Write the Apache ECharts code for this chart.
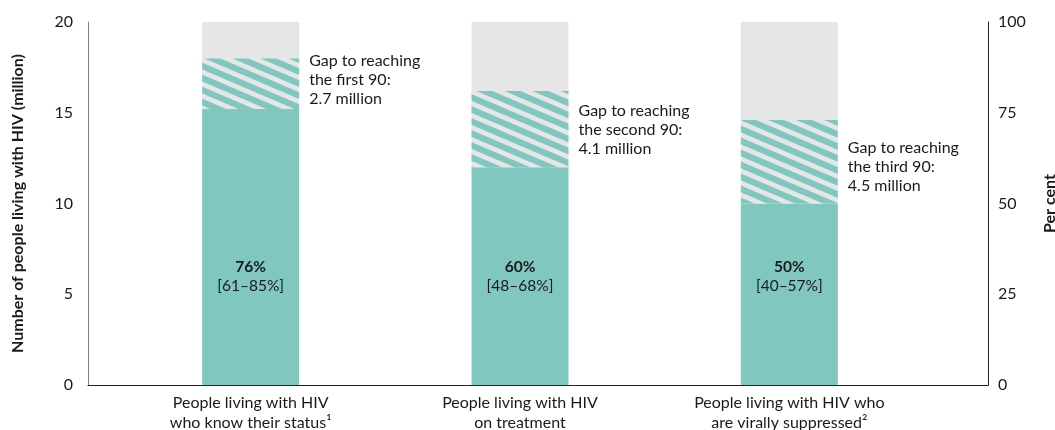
<!DOCTYPE html>
<html>
<head>
<meta charset="utf-8">
<script src="https://cdn.jsdelivr.net/npm/echarts@6/dist/echarts.min.js"></script>
<style>
html,body{margin:0;padding:0;background:#fff;}
#chart{width:1055px;height:430px;}
</style>
</head>
<body>
<div id="chart"></div>
<script>
// ---- Data ----
const categories = [
  "People living with HIV\nwho know their status\u00B9",
  "People living with HIV\non treatment",
  "People living with HIV who\nare virally suppressed\u00B2"
];
const reached = [15.2, 12.0, 10.0];      // millions (solid teal)
const gap = [2.8, 4.2, 4.6];             // millions (hatched)
const remainder = [2.0, 3.8, 5.4];       // up to 20 million (grey)
const pctValues = [76, 60, 50];
const pctRanges = ["61\u201385%", "48\u201368%", "40\u201357%"];
const gapLabels = [
  "Gap to reaching\nthe first 90:\n2.7 million",
  "Gap to reaching\nthe second 90:\n4.1 million",
  "Gap to reaching\nthe third 90:\n4.5 million"
];
const leftTicks = [0, 5, 10, 15, 20];
const rightTicks = [0, 25, 50, 75, 100];

// ---- Styles ----
const TEAL = '#80c7bf';
const GREY = '#e6e6e6';
const TEXT = '#1a1a1a';
const FONT = 'Lato';
const gapLabelOffsets = [-4, 1, 5];
const pctLabelAnchor = 6;

function makeHatch() {
  const W = 28, H = 12;
  const c = document.createElement('canvas');
  c.width = W; c.height = H;
  const ctx = c.getContext('2d');
  ctx.fillStyle = GREY;
  ctx.fillRect(0, 0, W, H);
  ctx.fillStyle = TEAL;
  const t = 6.8;
  for (let k = -3; k <= 3; k++) {
    const y0 = k * H;
    ctx.beginPath();
    ctx.moveTo(0, y0);
    ctx.lineTo(W, y0 + H);
    ctx.lineTo(W, y0 + H + t);
    ctx.lineTo(0, y0 + t);
    ctx.closePath();
    ctx.fill();
  }
  return c;
}

const chart = echarts.init(document.getElementById('chart'), null, {renderer: 'canvas'});

const option = {
  animation: false,
  backgroundColor: '#fff',
  textStyle: {fontFamily: FONT, color: TEXT},
  grid: [
    {left: 88, right: 67, top: 22, bottom: 45, containLabel: false, outerBoundsMode: 'none'},
    {left: 116, right: 131, top: 22, bottom: 45, containLabel: false, outerBoundsMode: 'none'}
  ],
  xAxis: [
    {
      gridIndex: 0, type: 'category', data: [''],
      axisLine: {show: true, lineStyle: {color: '#222', width: 1}},
      axisTick: {show: false}, axisLabel: {show: false}, splitLine: {show: false}
    },
    {
      gridIndex: 1, type: 'category', data: categories,
      axisLine: {show: false}, axisTick: {show: false},
      axisLabel: {
        interval: 0, margin: 8, fontSize: 16, lineHeight: 20,
        color: TEXT, fontFamily: FONT, align: 'center'
      }
    }
  ],
  yAxis: [
    {
      gridIndex: 0, type: 'value', position: 'left',
      min: leftTicks[0], max: leftTicks[leftTicks.length - 1], interval: 5,
      name: 'Number of people living with HIV (million)',
      nameLocation: 'middle', nameGap: 62, nameRotate: 90,
      nameTextStyle: {fontSize: 16, fontWeight: 'bold', color: TEXT, fontFamily: FONT},
      axisLine: {show: true, lineStyle: {color: '#808080', width: 1}},
      axisTick: {show: false},
      axisLabel: {fontSize: 16, color: TEXT, margin: 15, fontFamily: FONT},
      splitLine: {show: false}
    },
    {
      gridIndex: 0, type: 'value', position: 'right',
      min: rightTicks[0], max: rightTicks[rightTicks.length - 1], interval: 25,
      name: 'Per cent',
      nameLocation: 'middle', nameGap: 54, nameRotate: 90,
      nameTextStyle: {fontSize: 16, fontWeight: 'bold', color: TEXT, fontFamily: FONT},
      axisLine: {show: true, lineStyle: {color: '#222', width: 1}},
      axisTick: {show: false},
      axisLabel: {fontSize: 16, color: TEXT, margin: 10, fontFamily: FONT},
      splitLine: {show: false}
    },
    {
      gridIndex: 1, type: 'value', min: 0, max: 20, show: false
    }
  ],
  series: [
    {
      name: 'reached', type: 'bar', xAxisIndex: 1, yAxisIndex: 2, stack: 'a',
      barWidth: 97, data: reached,
      itemStyle: {color: TEAL}
    },
    {
      name: 'gap', type: 'bar', xAxisIndex: 1, yAxisIndex: 2, stack: 'a',
      barWidth: 97,
      data: gap.map((v, i) => ({
        value: v,
        label: {
          show: true, position: 'right', distance: 10,
          offset: [0, gapLabelOffsets[i]],
          formatter: gapLabels[i],
          fontSize: 16, lineHeight: 19, color: TEXT, fontFamily: FONT, align: 'left'
        }
      })),
      itemStyle: {color: {image: makeHatch(), repeat: 'repeat'}}
    },
    {
      name: 'rest', type: 'bar', xAxisIndex: 1, yAxisIndex: 2, stack: 'a',
      barWidth: 97, data: remainder,
      itemStyle: {color: GREY}
    },
    {
      name: 'pct', type: 'scatter', xAxisIndex: 1, yAxisIndex: 2,
      symbolSize: 0, silent: true,
      itemStyle: {opacity: 1},
      data: pctValues.map((v, i) => ({
        value: [i, pctLabelAnchor],
        label: {
          show: true, position: 'inside', color: TEXT,
          formatter: '{b|' + v + '%}\n{r|[' + pctRanges[i] + ']}',
          rich: {
            b: {fontSize: 15.5, fontWeight: 'bold', lineHeight: 19, color: TEXT, fontFamily: FONT, align: 'center'},
            r: {fontSize: 15.5, lineHeight: 19, color: TEXT, fontFamily: FONT, align: 'center'}
          }
        }
      }))
    }
  ]
};
chart.setOption(option);
</script>
</body>
</html>
